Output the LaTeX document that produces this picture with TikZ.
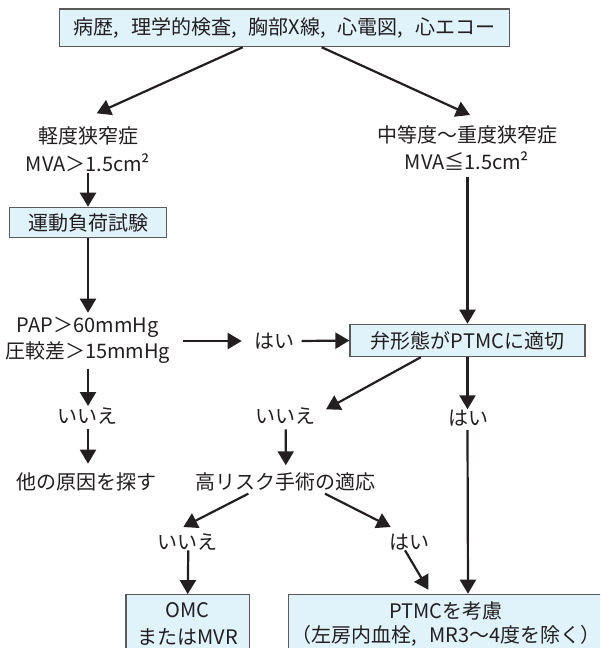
\documentclass[tikz,border=0pt]{standalone}
\usepackage{fontspec}
\setmainfont{Noto Sans CJK JP}
\usetikzlibrary{arrows.meta}
\definecolor{ink}{HTML}{231F20}
\definecolor{boxfill}{HTML}{E0F2FA}
\definecolor{boxline}{HTML}{5A5A5A}
\newcommand{\cm}{,\hspace{0.6em}}
\tikzset{
  txt/.style={inner sep=0pt, text=ink, align=center, font=\fontsize{20}{26}\selectfont},
  bluebox/.style={txt, draw=boxline, line width=1.2pt, fill=boxfill},
  conn/.style={draw=ink, line width=2.2pt, -{Triangle[width=16pt,length=14pt]}}
}
\begin{document}
\begin{tikzpicture}[x=1pt,y=-1pt]
\path[use as bounding box, clip] (0,0) rectangle (600,648);
\fill[white] (0,0) rectangle (600,648);
% nodes
\node[bluebox, minimum width=450, minimum height=37.7] (top) at (284.3,27.8) {病歴\cm 理学的検査\cm 胸部X線\cm 心電図\cm 心エコー};
\node[txt, font=\fontsize{20}{27.5}\selectfont] (mild) at (88,149) {軽度狭窄症\\MVA＞1.5cm²};
\node[txt, font=\fontsize{20}{27.5}\selectfont] (severe) at (467,148) {中等度〜重度狭窄症\\MVA≦1.5cm²};
\node[bluebox, minimum width=157.4, minimum height=30.4] (exer) at (88,222.5) {運動負荷試験};
\node[txt] (pap) at (87.7,340.6) {PAP＞60mmHg\\圧較差＞15mmHg};
\node[txt] (yes1) at (274.3,341) {はい};
\node[bluebox, minimum width=235, minimum height=32.4] (valve) at (467.5,340.5) {弁形態がPTMCに適切};
\node[txt] (no1) at (87.5,416) {いいえ};
\node[txt] (no2) at (285.5,416) {いいえ};
\node[txt] (yes2) at (468,417.7) {はい};
\node[txt] (other) at (86.7,482) {他の原因を探す};
\node[txt] (hirisk) at (285.8,482) {高リスク手術の適応};
\node[txt] (no3) at (187,542) {いいえ};
\node[txt] (yes3) at (409.5,542) {はい};
\node[bluebox, font=\fontsize{20}{26.5}\selectfont, minimum width=123.3, minimum height=59] (omc) at (187.7,624.2) {OMC\\またはMVR};
\node[bluebox, font=\fontsize{20}{24.5}\selectfont, minimum width=315.7, minimum height=59] (ptmc) at (446.2,623.8) {PTMCを考慮\\（左房内血栓\cm MR3〜4度を除く）};
% connectors
\draw[conn] ([xshift=-41.6pt]top.south) -- ([shift={(8.7,-35.7)}]mild.center);
\draw[conn] ([xshift=37.4pt]top.south) -- ([shift={(3,-33)}]severe.center);
\draw[conn] ([shift={(0,24.3)}]mild.center) -- (exer.north);
\draw[conn] ([shift={(0.5,28.7)}]severe.center) -- (valve.north);
\draw[conn] (exer.south) -- ([shift={(0.3,-27.9)}]pap.center);
\draw[conn] ([shift={(95.6,0.4)}]pap.center) -- ([shift={(-32.6,0)}]yes1.center);
\draw[conn] ([shift={(27.4,0)}]yes1.center) -- (valve.west);
\draw[conn] ([shift={(0.3,28.1)}]pap.center) -- ([shift={(0.5,-10)}]no1.center);
\draw[conn] ([xshift=-46.8pt]valve.south) -- ([shift={(40.5,-6.7)}]no2.center);
\draw[conn] (valve.south) -- ([shift={(-0.5,-8.4)}]yes2.center);
\draw[conn] ([shift={(0.5,13.3)}]no1.center) -- ([shift={(1.3,-18.3)}]other.center);
\draw[conn] ([shift={(0.2,13.3)}]no2.center) -- ([shift={(0,-16.7)}]hirisk.center);
\draw[conn] ([shift={(-0.5,12.5)}]yes2.center) -- (yes2.center |- ptmc.north);
\draw[conn] ([shift={(-37.5,11.7)}]hirisk.center) -- ([shift={(-3.7,-15)}]no3.center);
\draw[conn] ([shift={(39.2,11.7)}]hirisk.center) -- ([shift={(-18.8,-15)}]yes3.center);
\draw[conn] ([shift={(1.3,8.3)}]no3.center) -- (omc.north);
\draw[conn] ([shift={(-4.5,8.3)}]yes3.center) -- ([shift={(-17.9,-4)}]ptmc.north);
\end{tikzpicture}
\end{document}
